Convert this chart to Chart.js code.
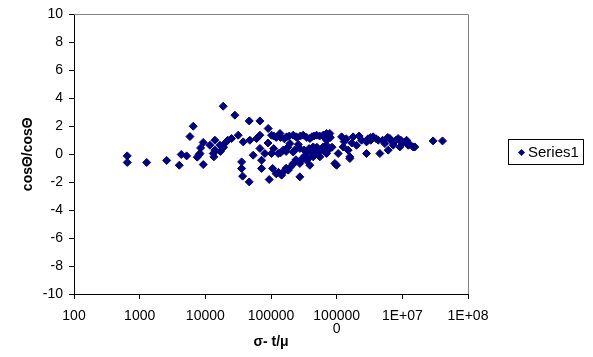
<!DOCTYPE html>
<html>
<head>
<meta charset="utf-8">
<script src="https://cdn.jsdelivr.net/npm/chart.js@4/dist/chart.umd.min.js"></script>
<style>
  html, body { margin: 0; padding: 0; background: #fff; }
  #wrap { width: 593px; height: 357px; }
</style>
</head>
<body>
<div id="wrap"><canvas id="chart" width="593" height="357"></canvas></div>
<script>
const seriesName = 'Series1';

// x = sigma t / mu, y = cos ratio
const xValues = [
  647, 647, 1280, 2580, 4010, 4300, 5190, 5830, 6540, 7530,
  8070, 9290, 9290, 8470, 11750, 14000, 13500, 8280, 13200, 16700,
  14000, 18700, 28200, 46600, 67800, 90600, 25100, 31700, 37800, 47700,
  60400, 67800, 102000, 137000, 173000, 218000, 309000, 391000, 494000, 702000,
  53600, 67800, 80700, 102000, 129000, 153000, 194000, 218000, 275000, 348000,
  439000, 555000, 702000, 35700, 35700, 37000, 46600, 71900, 71900, 106000,
  93900, 145000, 183000, 218000, 275000, 275000, 348000, 439000, 555000, 702000,
  391000, 624000, 787000, 702000, 624000, 939000, 1055000, 1189000, 1256000, 1588000,
  1496000, 1782000, 2008000, 2393000, 2851000, 2851000, 3595000, 4285000, 4547000, 5418000,
  6085000, 6457000, 7247000, 8636000, 9162000, 11590000, 12250000, 14590000, 15490000, 29430000,
  40930000, 996000, 1588000, 20000, 22000, 19000, 17000, 120000, 160000, 250000,
  450000, 800000, 120000, 160000, 200000, 240000, 300000, 330000, 420000, 480000,
  600000, 850000, 110000, 90000, 180000, 260000, 3000000, 3300000, 5000000, 7000000,
  10000000, 13000000,
  110000, 140000, 190000, 240000, 280000, 350000, 420000, 550000, 650000,
  130000, 170000, 230000, 280000, 370000, 520000, 650000, 750000,
  140000, 170000, 230000, 320000, 380000, 500000, 660000,
  1400000, 2200000, 3300000, 4000000, 6000000, 8000000, 9500000, 1300000, 1700000
];
const yValues = [
  -0.12, -0.59, -0.59, -0.45, -0.79, -0.02, -0.12, 1.26, 2.0, -0.21,
  -0.02, -0.74, 0.84, 0.45, 0.64, 1.0, -0.19, 0.05, 0.05, 0.64,
  0.29, 3.43, 2.79, 2.38, 2.38, 1.84, 1.12, 1.36, 0.88, 1.0,
  1.12, 1.36, 1.36, 1.48, 1.24, 1.36, 1.36, 1.12, 1.36, 1.48,
  -0.07, 0.41, 0.05, 0.05, 0.05, 0.29, 0.76, 0.16, 0.41, 0.16,
  0.52, 0.29, 0.64, -0.55, -1.02, -1.57, -1.98, -0.43, -1.02, -1.02,
  -1.81, -1.5, -1.14, -0.66, -1.62, -0.66, -0.43, -0.19, -0.19, 0.05,
  -0.79, 1.36, 1.48, 1.0, 0.52, -0.66, 0.05, 1.24, 0.52, -0.31,
  0.29, 1.24, 0.64, 1.0, 0.05, 0.88, 1.24, 1.0, 0.05, 0.76,
  0.29, 1.12, 0.64, 1.12, 0.52, 1.0, 0.64, 0.52, 0.52, 0.95,
  0.95, -0.79, -0.19, 0.8, 1.0, 0.5, 0.2, 1.2, 1.1, 1.2,
  1.3, 1.2, -1.4, -1.2, -0.9, -0.4, -0.3, -0.1, 0.1, 0.2,
  0.4, 0.5, 0.4, 0.8, 0.5, 0.7, 1.1, 1.0, 1.0, 0.9,
  0.8, 0.7,
  1.3, 1.2, 1.3, 1.25, 1.3, 1.2, 1.25, 1.3, 1.2,
  -1.3, -1.0, -0.6, -0.5, -0.3, 0.0, 0.2, 0.3,
  0.1, 0.2, 0.3, 0.3, 0.4, 0.5, 0.5,
  1.1, 1.3, 1.2, 1.1, 1.2, 1.0, 1.0, 0.9, 0.8
];

const xTickValues = [1e2, 1e3, 1e4, 1e5, 1e6, 1e7, 1e8];
const xTickLabels = ['100', '1000', '10000', '100000', ['100000', '0'], '1E+07', '1E+08'];

const FONT = '"Liberation Sans", Arial, sans-serif';

// gray plot-area frame on top and right (left/bottom are the black axes)
const plotFrame = {
  id: 'plotFrame',
  beforeDatasetsDraw(chart) {
    const a = chart.chartArea;
    const ctx = chart.ctx;
    ctx.save();
    ctx.strokeStyle = '#808080';
    ctx.lineWidth = 1;
    ctx.beginPath();
    ctx.moveTo(Math.round(a.left), Math.round(a.top) + 0.5);
    ctx.lineTo(Math.round(a.right) + 0.5, Math.round(a.top) + 0.5);
    ctx.lineTo(Math.round(a.right) + 0.5, Math.round(a.bottom));
    ctx.stroke();
    ctx.restore();
  }
};

// Excel style boxed legend
const legendBox = {
  id: 'legendBox',
  afterDraw(chart) {
    const ctx = chart.ctx;
    ctx.save();
    ctx.strokeStyle = '#000';
    ctx.lineWidth = 1;
    ctx.strokeRect(508.5, 139.5, 75, 25);
    const cx = 521.5, cy = 152.5, r = 3.5;
    ctx.fillStyle = '#000080';
    ctx.beginPath();
    ctx.moveTo(cx - r, cy);
    ctx.lineTo(cx, cy - r);
    ctx.lineTo(cx + r, cy);
    ctx.lineTo(cx, cy + r);
    ctx.closePath();
    ctx.fill();
    ctx.fillStyle = '#000';
    ctx.font = '15px ' + FONT;
    ctx.textBaseline = 'middle';
    ctx.textAlign = 'left';
    ctx.fillText(seriesName, 528, 152.5);
    ctx.restore();
  }
};

new Chart(document.getElementById('chart'), {
  type: 'scatter',
  data: {
    datasets: [{
      label: seriesName,
      data: xValues.map((x, i) => ({ x: x, y: yValues[i] })),
      pointStyle: 'rectRot',
      pointRadius: 4,
      pointBorderWidth: 1,
      backgroundColor: '#000080',
      borderColor: '#000080'
    }]
  },
  options: {
    responsive: false,
    animation: false,
    layout: { padding: { left: 0, top: 13, right: 125, bottom: 0 } },
    plugins: {
      legend: { display: false },
      tooltip: { enabled: false }
    },
    scales: {
      x: {
        type: 'logarithmic',
        min: 100,
        max: 1e8,
        afterBuildTicks: (scale) => {
          scale.ticks = xTickValues.map(v => ({ value: v }));
        },
        afterFit: (scale) => { scale.height = 63; },
        ticks: {
          autoSkip: false,
          maxRotation: 0,
          padding: 11,
          color: '#000',
          font: { family: FONT, size: 14, lineHeight: 0.93 },
          callback: (v, i) => xTickLabels[i]
        },
        grid: { drawOnChartArea: false, drawTicks: true, tickLength: 5, color: '#000' },
        border: { color: '#000', width: 1 },
        title: {
          display: true,
          text: 'σ- t/μ',
          color: '#000',
          font: { family: FONT, size: 14, weight: 'bold' },
          padding: { top: 0, bottom: 6 }
        }
      },
      y: {
        min: -10,
        max: 10,
        afterFit: (scale) => { scale.width = 74; },
        ticks: {
          stepSize: 2,
          padding: 6,
          color: '#000',
          font: { family: FONT, size: 14 }
        },
        grid: { drawOnChartArea: false, drawTicks: true, tickLength: 5, color: '#000' },
        border: { color: '#000', width: 1 },
        title: {
          display: true,
          text: 'cosΘ/cosΘ',
          color: '#000',
          font: { family: FONT, size: 14, weight: 'bold' },
          padding: { top: 20, bottom: 0 }
        }
      }
    }
  },
  plugins: [plotFrame, legendBox]
});
</script>
</body>
</html>
